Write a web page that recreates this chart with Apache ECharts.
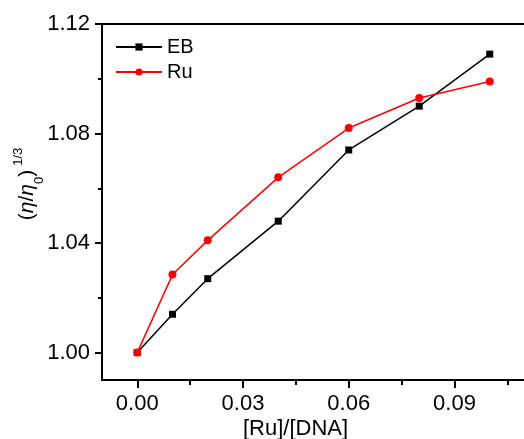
<!DOCTYPE html>
<html>
<head>
<meta charset="utf-8">
<script src="https://cdn.jsdelivr.net/npm/echarts@6/dist/echarts.min.js"></script>
<style>html,body{margin:0;padding:0;background:#fff}#c{width:524px;height:439px}</style>
</head>
<body>
<div id="c"></div>
<script>
var xValues = [0, 0.01, 0.02, 0.04, 0.06, 0.08, 0.10];
var ebValues = [1.000, 1.014, 1.027, 1.048, 1.074, 1.090, 1.109];
var ruValues = [1.000, 1.0285, 1.041, 1.064, 1.082, 1.093, 1.099];
var xTickLabels = [0.00, 0.03, 0.06, 0.09];
var xMinorTicks = [0.015, 0.045, 0.075, 0.105];
var yTickLabels = [1.00, 1.04, 1.08, 1.12];
var yMinorTicks = [1.02, 1.06, 1.10];
var seriesNames = ['EB', 'Ru'];

function pairs(xs, ys) { return xs.map(function (x, i) { return [x, ys[i]]; }); }

var font = 'Liberation Sans, Arial, sans-serif';
var chart = echarts.init(document.getElementById('c'), null, {renderer: 'canvas'});
var axLine = {show: true, onZero: false, lineStyle: {color: '#000', width: 2}};
chart.setOption({
  animation: false,
  grid: {left: 102, top: 24, width: 423, height: 356, containLabel: false, outerBoundsMode: 'none'},
  legend: {
    orient: 'vertical', left: 110, top: 32,
    itemWidth: 46, itemHeight: 9, itemGap: 5,
    data: seriesNames,
    textStyle: {fontFamily: font, fontSize: 20, color: '#000', lineHeight: 20}
  },
  xAxis: [{
    type: 'value', min: -0.01, max: 0.11, position: 'bottom',
    axisLine: axLine,
    axisTick: {show: true, inside: false, length: 8, lineStyle: {color: '#000', width: 2}, customValues: xTickLabels},
    axisLabel: {show: true, margin: 13, fontFamily: font, fontSize: 22, color: '#000', customValues: xTickLabels,
      formatter: function (v) { return v.toFixed(2); }},
    splitLine: {show: false},
    name: '[Ru]/[DNA]', nameLocation: 'middle', nameGap: 38, nameMoveOverlap: false,
    nameTextStyle: {fontFamily: font, fontSize: 22, color: '#000', padding: [0, 36, 0, 0]}
  }, {
    type: 'value', min: -0.01, max: 0.11, position: 'bottom',
    axisLine: {show: false, onZero: false},
    axisTick: {show: true, length: 5, lineStyle: {color: '#000', width: 2}, customValues: xMinorTicks},
    axisLabel: {show: false}, splitLine: {show: false}
  }, {
    type: 'value', min: -0.01, max: 0.11, position: 'top',
    axisLine: axLine, axisTick: {show: false}, axisLabel: {show: false}, splitLine: {show: false}
  }],
  yAxis: [{
    type: 'value', min: 0.99, max: 1.12, position: 'left',
    axisLine: axLine,
    axisTick: {show: true, inside: false, length: 7, lineStyle: {color: '#000', width: 2}, customValues: yTickLabels},
    axisLabel: {show: true, margin: 12, fontFamily: font, fontSize: 22, color: '#000', customValues: yTickLabels,
      formatter: function (v) { return v.toFixed(2); }},
    splitLine: {show: false},
    name: '({i|η}/{i|η}{sub|0}){sup|1/3}', nameLocation: 'middle', nameGap: 60, nameRotate: 90, nameMoveOverlap: false,
    nameTextStyle: {
      fontFamily: font, fontSize: 21, color: '#000', lineHeight: 30, padding: [0, 0, 0, 36],
      rich: {
        i: {fontFamily: font, fontSize: 21, fontStyle: 'italic', color: '#000', lineHeight: 30},
        sub: {fontFamily: font, fontSize: 13, color: '#000', verticalAlign: 'bottom', lineHeight: 30, padding: [0, 0, -4, 0]},
        sup: {fontFamily: font, fontSize: 13, color: '#000', verticalAlign: 'top', lineHeight: 30, padding: [0, 0, 0, 4]}
      }
    }
  }, {
    type: 'value', min: 0.99, max: 1.12, position: 'left',
    axisLine: {show: false, onZero: false},
    axisTick: {show: true, length: 4, lineStyle: {color: '#000', width: 2}, customValues: yMinorTicks},
    axisLabel: {show: false}, splitLine: {show: false}
  }],
  series: [{
    name: seriesNames[0], type: 'line', data: pairs(xValues, ebValues),
    symbol: 'rect', symbolSize: 7,
    lineStyle: {color: '#000', width: 1.5}, itemStyle: {color: '#000'}
  }, {
    name: seriesNames[1], type: 'line', data: pairs(xValues, ruValues),
    symbol: 'circle', symbolSize: 8,
    lineStyle: {color: '#ff0000', width: 1.5}, itemStyle: {color: '#ff0000'}
  }]
});
</script>
</body>
</html>
